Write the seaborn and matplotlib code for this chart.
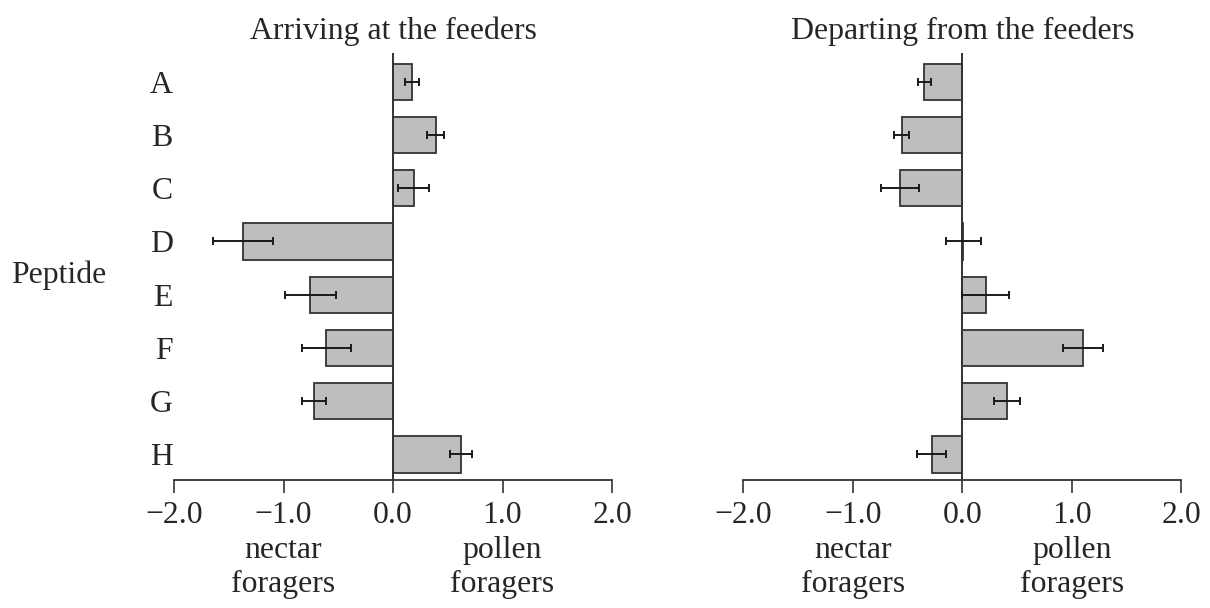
import numpy as np
import pandas as pd
import seaborn as sns
import matplotlib.pyplot as plt
from matplotlib.transforms import blended_transform_factory

# peptide labels
peptides = ["A", "B", "C", "D", "E", "F", "G", "H"]

# mean preference (negative = nectar foragers, positive = pollen foragers)
arriving = [0.17, 0.39, 0.19, -1.37, -0.755, -0.61, -0.72, 0.625]
arriving_err = [0.065, 0.077, 0.14, 0.27, 0.23, 0.225, 0.11, 0.10]

departing = [-0.347, -0.555, -0.567, 0.01, 0.213, 1.10, 0.405, -0.28]
departing_err = [0.06, 0.072, 0.172, 0.159, 0.215, 0.183, 0.12, 0.135]

x_ticks = [-2.0, -1.0, 0.0, 1.0, 2.0]
titles = ["Arriving at the feeders", "Departing from the feeders"]

BAR = "#bdbec0"
DARK = "#333333"
FS = 22.9

sns.set_theme(style="white")
plt.rcParams["font.family"] = ["Liberation Serif", "DejaVu Serif"]

fig = plt.figure(figsize=(12.1, 6.08), dpi=100)
ax_l = fig.add_axes([0.1438, 0.2105, 0.362, 0.7023])
ax_r = fig.add_axes([0.6143, 0.2105, 0.362, 0.7023])


def draw_panel(ax, values, errs, title, show_labels):
    df = pd.DataFrame({"Peptide": peptides, "Value": values})
    sns.barplot(data=df, x="Value", y="Peptide", order=peptides, orient="h",
                color=BAR, saturation=1, edgecolor=DARK, linewidth=1.3,
                width=0.68, errorbar=None, ax=ax)
    pos = np.arange(len(peptides))
    ax.errorbar(values, pos, xerr=errs, fmt="none", ecolor="#1a1a1a",
                elinewidth=1.4, capsize=3.2, capthick=1.4, zorder=5)
    ax.axvline(0, color=DARK, lw=1.4, zorder=4)

    ax.set_xlim(-2, 2)
    ax.set_ylim(7.48, -0.54)
    ax.set_xticks(x_ticks)
    ax.set_xticklabels([f"{t:.1f}".replace("-", "\u2212") for t in x_ticks])
    ax.tick_params(axis="x", direction="out", length=9, width=1.2,
                   color=DARK, labelsize=FS, pad=6, bottom=True)
    ax.tick_params(axis="y", length=0, labelsize=FS, pad=1)
    if not show_labels:
        ax.set_yticklabels([])
    ax.set_xlabel("")
    ax.set_ylabel("")
    for side in ["top", "right", "left"]:
        ax.spines[side].set_visible(False)
    ax.spines["bottom"].set_color(DARK)
    ax.spines["bottom"].set_linewidth(1.3)
    ax.set_title(title, fontsize=FS, pad=10)

    # two-line labels under the axis, last line baseline aligned
    trans = blended_transform_factory(ax.transData, fig.transFigure)
    ax.text(-1, 0.027, "nectar\nforagers", transform=trans, ha="center",
            va="baseline", fontsize=FS, linespacing=1.2)
    ax.text(1, 0.027, "pollen\nforagers", transform=trans, ha="center",
            va="baseline", fontsize=FS, linespacing=1.2)


draw_panel(ax_l, arriving, arriving_err, titles[0], True)
draw_panel(ax_r, departing, departing_err, titles[1], False)

fig.text(0.0488, 0.534, "Peptide", ha="center", va="baseline", fontsize=FS)

fig.savefig("out.png", dpi=100)
